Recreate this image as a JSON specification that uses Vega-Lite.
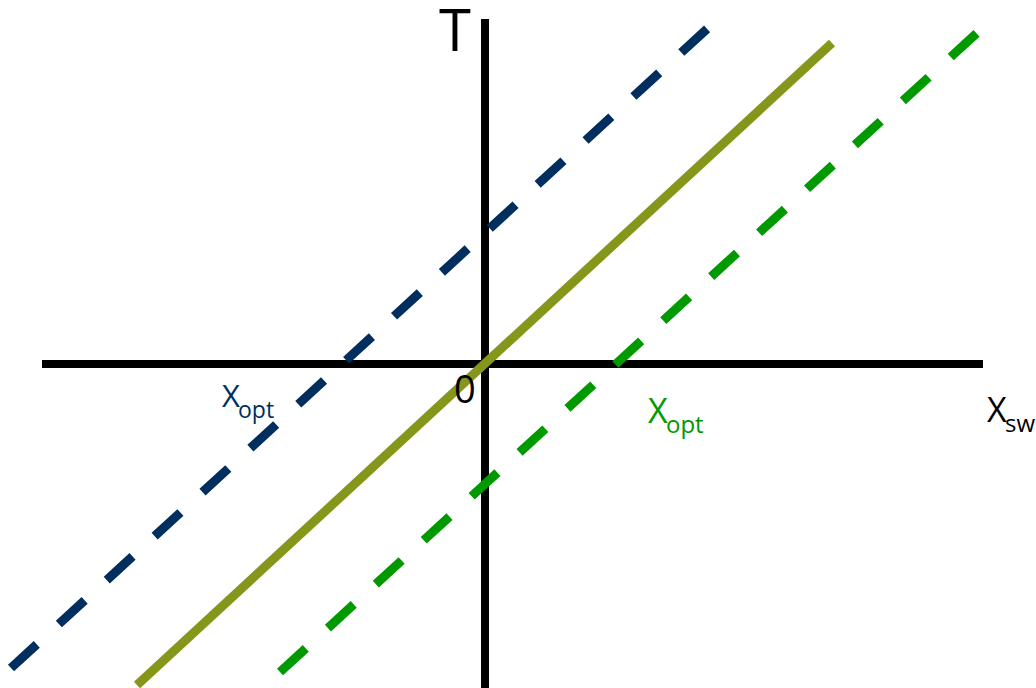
{
  "$schema": "https://vega.github.io/schema/vega-lite/v6.json",
  "width": 1036,
  "height": 688,
  "autosize": {"type": "none"},
  "padding": 0,
  "background": "white",
  "config": {"view": {"stroke": null}, "font": "Open Sans"},
  "datasets": {
    "axes": [
      {"name": "h", "x1": -4.43, "x2": 4.98, "y1": 0, "y2": 0},
      {"name": "v", "x1": 0, "x2": 0, "y1": 3.45, "y2": -3.24}
    ],
    "lines": [
      {"series": "blue", "x": -4.74, "y": -3.04},
      {"series": "blue", "x": 2.23, "y": 3.36},
      {"series": "olive", "x": -3.48, "y": -3.21},
      {"series": "olive", "x": 3.47, "y": 3.21},
      {"series": "green", "x": -2.05, "y": -3.08},
      {"series": "green", "x": 4.93, "y": 3.32}
    ],
    "labels": [
      {"group": "T", "text": "T", "x": -0.46, "y": 3.13},
      {"group": "zero", "text": "0", "x": -0.31, "y": -0.39},
      {"group": "blueX", "text": "X", "x": -2.63, "y": -0.43},
      {"group": "blueSub", "text": "opt", "x": -2.47, "y": -0.54},
      {"group": "greenX", "text": "X", "x": 1.63, "y": -0.59},
      {"group": "greenSub", "text": "opt", "x": 1.81, "y": -0.69},
      {"group": "swX", "text": "X", "x": 5.02, "y": -0.58},
      {"group": "swSub", "text": "sw", "x": 5.2, "y": -0.68}
    ]
  },
  "encoding": {},
  "layer": [
    {
      "data": {"name": "axes"},
      "mark": {"type": "rule", "color": "black", "strokeWidth": 8, "strokeCap": "butt"},
      "encoding": {
        "x": {"field": "x1", "type": "quantitative", "scale": {"domain": [-4.85, 5.51], "nice": false, "zero": false}, "axis": null},
        "x2": {"field": "x2"},
        "y": {"field": "y1", "type": "quantitative", "scale": {"domain": [-3.24, 3.64], "nice": false, "zero": false}, "axis": null},
        "y2": {"field": "y2"}
      }
    },
    {
      "data": {"name": "lines"},
      "transform": [{"filter": "datum.series == 'olive'"}],
      "mark": {"type": "line", "color": "#85961a", "strokeWidth": 9, "strokeCap": "butt"},
      "encoding": {
        "x": {"field": "x", "type": "quantitative", "scale": {"domain": [-4.85, 5.51], "nice": false, "zero": false}, "axis": null},
        "y": {"field": "y", "type": "quantitative", "scale": {"domain": [-3.24, 3.64], "nice": false, "zero": false}, "axis": null}
      }
    },
    {
      "data": {"name": "lines"},
      "transform": [{"filter": "datum.series == 'blue'"}],
      "mark": {"type": "line", "color": "#002e5e", "strokeWidth": 9, "strokeCap": "butt", "strokeDash": [35, 30]},
      "encoding": {
        "x": {"field": "x", "type": "quantitative", "scale": {"domain": [-4.85, 5.51], "nice": false, "zero": false}, "axis": null},
        "y": {"field": "y", "type": "quantitative", "scale": {"domain": [-3.24, 3.64], "nice": false, "zero": false}, "axis": null}
      }
    },
    {
      "data": {"name": "lines"},
      "transform": [{"filter": "datum.series == 'green'"}],
      "mark": {"type": "line", "color": "#009a00", "strokeWidth": 9, "strokeCap": "butt", "strokeDash": [35, 30]},
      "encoding": {
        "x": {"field": "x", "type": "quantitative", "scale": {"domain": [-4.85, 5.51], "nice": false, "zero": false}, "axis": null},
        "y": {"field": "y", "type": "quantitative", "scale": {"domain": [-3.24, 3.64], "nice": false, "zero": false}, "axis": null}
      }
    },
    {
      "data": {"name": "labels"},
      "transform": [{"filter": "datum.group == 'T'"}],
      "mark": {"type": "text", "align": "left", "baseline": "alphabetic", "fontSize": 58, "color": "black"},
      "encoding": {
        "x": {"field": "x", "type": "quantitative"},
        "y": {"field": "y", "type": "quantitative"},
        "text": {"field": "text"}
      }
    },
    {
      "data": {"name": "labels"},
      "transform": [{"filter": "datum.group == 'zero'"}],
      "mark": {"type": "text", "align": "left", "baseline": "alphabetic", "fontSize": 38, "color": "black"},
      "encoding": {
        "x": {"field": "x", "type": "quantitative"},
        "y": {"field": "y", "type": "quantitative"},
        "text": {"field": "text"}
      }
    },
    {
      "data": {"name": "labels"},
      "transform": [{"filter": "datum.group == 'blueX'"}],
      "mark": {"type": "text", "align": "left", "baseline": "alphabetic", "fontSize": 31, "color": "#002e5e"},
      "encoding": {
        "x": {"field": "x", "type": "quantitative"},
        "y": {"field": "y", "type": "quantitative"},
        "text": {"field": "text"}
      }
    },
    {
      "data": {"name": "labels"},
      "transform": [{"filter": "datum.group == 'blueSub'"}],
      "mark": {"type": "text", "align": "left", "baseline": "alphabetic", "fontSize": 23, "color": "#002e5e"},
      "encoding": {
        "x": {"field": "x", "type": "quantitative"},
        "y": {"field": "y", "type": "quantitative"},
        "text": {"field": "text"}
      }
    },
    {
      "data": {"name": "labels"},
      "transform": [{"filter": "datum.group == 'greenX'"}],
      "mark": {"type": "text", "align": "left", "baseline": "alphabetic", "fontSize": 34, "color": "#009a00"},
      "encoding": {
        "x": {"field": "x", "type": "quantitative"},
        "y": {"field": "y", "type": "quantitative"},
        "text": {"field": "text"}
      }
    },
    {
      "data": {"name": "labels"},
      "transform": [{"filter": "datum.group == 'greenSub'"}],
      "mark": {"type": "text", "align": "left", "baseline": "alphabetic", "fontSize": 24, "color": "#009a00"},
      "encoding": {
        "x": {"field": "x", "type": "quantitative"},
        "y": {"field": "y", "type": "quantitative"},
        "text": {"field": "text"}
      }
    },
    {
      "data": {"name": "labels"},
      "transform": [{"filter": "datum.group == 'swX'"}],
      "mark": {"type": "text", "align": "left", "baseline": "alphabetic", "fontSize": 34, "color": "black"},
      "encoding": {
        "x": {"field": "x", "type": "quantitative"},
        "y": {"field": "y", "type": "quantitative"},
        "text": {"field": "text"}
      }
    },
    {
      "data": {"name": "labels"},
      "transform": [{"filter": "datum.group == 'swSub'"}],
      "mark": {"type": "text", "align": "left", "baseline": "alphabetic", "fontSize": 24, "color": "black"},
      "encoding": {
        "x": {"field": "x", "type": "quantitative"},
        "y": {"field": "y", "type": "quantitative"},
        "text": {"field": "text"}
      }
    }
  ]
}
